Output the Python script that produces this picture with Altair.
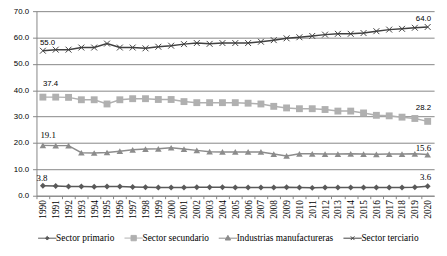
import altair as alt
import pandas as pd

years = ["1990", "1991", "1992", "1993", "1994", "1995", "1996", "1997", "1998", "1999",
         "2000", "2001", "2002", "2003", "2004", "2005", "2006", "2007", "2008", "2009",
         "2010", "2011", "2012", "2013", "2014", "2015", "2016", "2017", "2018", "2019", "2020"]

series = ["Sector primario", "Sector secundario", "Industrias manufactureras", "Sector terciario"]

primario = [3.8, 3.7, 3.5, 3.5, 3.4, 3.5, 3.5, 3.3, 3.2, 3.1, 3.1, 3.1, 3.2, 3.2, 3.2, 3.1,
            3.1, 3.1, 3.1, 3.2, 3.1, 3.0, 3.1, 3.1, 3.1, 3.1, 3.1, 3.1, 3.1, 3.2, 3.6]
secundario = [37.4, 37.4, 37.3, 36.4, 36.4, 34.8, 36.4, 36.8, 36.8, 36.5, 36.5, 35.7, 35.3,
              35.3, 35.3, 35.3, 35.1, 34.8, 33.9, 33.3, 33.0, 33.0, 32.7, 32.1, 32.1, 31.4,
              30.5, 30.3, 29.8, 29.3, 28.2]
industrias = [19.1, 19.0, 19.0, 16.3, 16.2, 16.4, 16.9, 17.4, 17.7, 17.8, 18.2, 17.7, 17.2,
              16.7, 16.6, 16.6, 16.6, 16.6, 15.8, 15.1, 15.9, 15.9, 15.8, 15.8, 15.9, 15.8,
              15.7, 15.8, 15.8, 15.9, 15.6]
terciario = [55.0, 55.4, 55.4, 56.2, 56.2, 57.7, 56.2, 56.2, 55.9, 56.5, 56.9, 57.5, 57.9,
             57.6, 57.9, 57.9, 57.9, 58.4, 59.0, 59.7, 60.1, 60.6, 61.1, 61.4, 61.4, 61.7,
             62.4, 63.0, 63.3, 63.7, 64.0]

y_ticks = [0, 10, 20, 30, 40, 50, 60, 70]

colors = ["#595959", "#B0B0B0", "#8C8C8C", "#404040"]
GRID = "#868686"

rows = []
for s, vals in zip(series, [primario, secundario, industrias, terciario]):
    for yr, v in zip(years, vals):
        rows.append({"Serie": s, "Año": yr, "Valor": v})
df = pd.DataFrame(rows)

x_enc = alt.X("Año:O", scale=alt.Scale(type="point", padding=0.5, domain=years),
              axis=alt.Axis(title=None, labelAngle=-90, tickOffset=-6.53, labelOffset=6.53,
                            grid=False, domainColor=GRID, tickColor=GRID, tickSize=3,
                            labelPadding=1, labelFont="Liberation Serif", labelFontSize=9.5,
                            labelColor="black"))
y_enc = alt.Y("Valor:Q", scale=alt.Scale(domain=[0, 70], nice=False),
              axis=alt.Axis(title=None, values=y_ticks, format=".1f", grid=True,
                            gridColor=GRID, domainColor=GRID, tickColor=GRID, tickSize=4,
                            labelPadding=4, labelFont="Liberation Sans", labelFontSize=8,
                            labelColor="black"))

base = alt.Chart(df)

marker_style = {
    "Sector primario": dict(shape="diamond", size=36, filled=True),
    "Sector secundario": dict(shape="square", size=49, filled=True),
    "Industrias manufactureras": dict(shape="triangle-up", size=45, filled=True),
    "Sector terciario": dict(shape="M-1,-1L1,1M-1,1L1,-1", size=36, filled=False),
}

line_layers = []
point_layers = []
for s, c in zip(series, colors):
    st = marker_style[s]
    sub = base.transform_filter(alt.datum.Serie == s)
    line_layers.append(sub.mark_line(strokeWidth=1.5, color=c).encode(x=x_enc, y=y_enc))
    point_layers.append(
        sub.mark_point(shape=st["shape"], size=st["size"], filled=st["filled"], color=c,
                       opacity=1, strokeWidth=1).encode(x=x_enc, y=y_enc))

label_style = {
    ("Sector terciario", "1990"): dict(align="left", dx=-3, dy=-6, font="Liberation Sans", fontSize=8),
    ("Sector terciario", "2020"): dict(align="right", dx=3.5, dy=-6, font="Liberation Sans", fontSize=8),
    ("Sector secundario", "1990"): dict(align="left", dx=0, dy=-11, font="Liberation Sans", fontSize=8),
    ("Sector secundario", "2020"): dict(align="right", dx=3.5, dy=-12, font="Liberation Sans", fontSize=8),
    ("Industrias manufactureras", "1990"): dict(align="left", dx=-2.5, dy=-8, font="Liberation Serif", fontSize=9),
    ("Industrias manufactureras", "2020"): dict(align="right", dx=3.5, dy=-4, font="Liberation Serif", fontSize=9),
    ("Sector primario", "1990"): dict(align="left", dx=-6.5, dy=-5, font="Liberation Serif", fontSize=9),
    ("Sector primario", "2020"): dict(align="right", dx=3.5, dy=-6, font="Liberation Serif", fontSize=9),
}

label_layers = []
for (s, yr), st in label_style.items():
    label_layers.append(
        base.transform_filter((alt.datum.Serie == s) & (alt.datum["Año"] == yr)).mark_text(
            baseline="alphabetic", color="black", **st).encode(
            x=x_enc, y=y_enc, text=alt.Text("Valor:Q", format=".1f")))

legend_paths = [
    "M-1.1,0L1.1,0M0,-0.22L0.22,0L0,0.22L-0.22,0Z",
    "M-1.1,0L1.1,0M-0.32,-0.32L0.32,-0.32L0.32,0.32L-0.32,0.32Z",
    "M-1.1,0L1.1,0M0,-0.34L0.32,0.22L-0.32,0.22Z",
    "M-1.1,0L1.1,0M-0.22,-0.22L0.22,0.22M-0.22,0.22L0.22,-0.22",
]

leg = alt.Legend(title=None, orient="none", direction="horizontal", legendX=2, legendY=222,
                 symbolSize=289, symbolStrokeWidth=1, labelOffset=0, columnPadding=7,
                 labelFont="Liberation Serif", labelFontSize=9.5, labelColor="black",
                 padding=0)

legend_layer = alt.Chart(df).transform_filter("false").mark_point(
    filled=True, strokeWidth=1, opacity=1).encode(
    color=alt.Color("Serie:N", scale=alt.Scale(domain=series, range=colors), legend=leg),
    stroke=alt.Stroke("Serie:N", scale=alt.Scale(domain=series, range=colors), legend=leg),
    shape=alt.Shape("Serie:N", scale=alt.Scale(domain=series, range=legend_paths), legend=leg),
)

chart = alt.layer(*line_layers, *point_layers, *label_layers, legend_layer).properties(
    width=405, height=188,
    autosize=alt.AutoSizeParams(type="none"),
    padding={"left": 29, "top": 1, "right": 5, "bottom": 50},
    background="white",
).configure_view(stroke=None)

chart.save("out.html", embed_options={"renderer": "svg", "actions": False})
